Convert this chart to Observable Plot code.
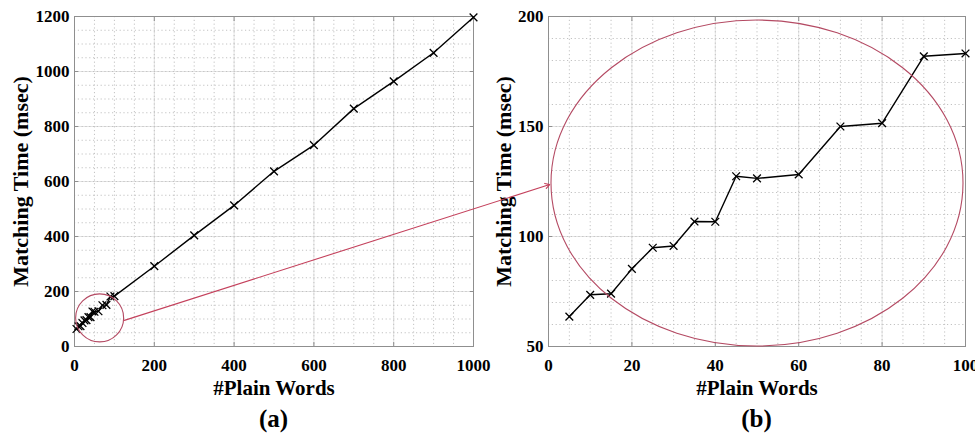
<!DOCTYPE html>
<html>
<head>
<meta charset="utf-8">
<script src="https://cdn.jsdelivr.net/npm/d3@7"></script>
<script src="https://cdn.jsdelivr.net/npm/@observablehq/plot@0.6"></script>
<style>
  html, body { margin: 0; padding: 0; background: white; overflow: hidden; width: 975px; height: 437px; }
  #wrap { display: flex; width: 975px; height: 437px; position: relative; }
  .panel { position: relative; }
  .cap { font-family: 'Liberation Serif', 'Times New Roman', serif; font-weight: bold; font-size: 25px;
         height: 37px; line-height: 37px; text-align: center; color: black; }
  svg { overflow: visible; }
</style>
</head>
<body>
<div id="wrap">
  <div class="panel" id="pa" style="width:490px"></div>
  <div class="panel" id="pb" style="width:485px"></div>
</div>
<script>
// ---- data ----
const words  = [5, 10, 15, 20, 25, 30, 35, 40, 45, 50, 60, 70, 80, 90, 100, 200, 300, 400, 500, 600, 700, 800, 900, 1000];
const timeMs = [63.6, 73.5, 74.0, 85.3, 94.9, 95.7, 106.8, 106.7, 127.4, 126.4, 128.2, 150.0, 151.5, 181.9, 183.2, 292, 404, 513, 637, 732, 865, 964, 1068, 1197];

const xTicksA = [0, 200, 400, 600, 800, 1000];
const yTicksA = [0, 200, 400, 600, 800, 1000, 1200];
const xTicksB = [0, 20, 40, 60, 80, 100];
const yTicksB = [50, 100, 150, 200];

const xLabel = "#Plain Words";
const yLabel = "Matching Time (msec)";
const captions = ["(a)", "(b)"];

// zoom annotation (data units of panel a / panel b)
const zoomCircleA = [{x: 63, y: 104}];
const zoomArrowA  = [{x1: 125, y1: 95, x2: 1191, y2: 589}];
const zoomEllipseB = [{x: 50, y: 124.3}];

const table = words.map((w, i) => ({words: w, time: timeMs[i]}));
const tableB = table.filter(d => d.words <= 100);

const serif = "'Liberation Serif', 'Times New Roman', serif";
const frameColor = "#8f8f8f";
const annColor = "#b44a63";
const fmt = d3.format("d");

function ellipseSymbol(rx, ry) {
  const k = 0.5523;
  return {
    draw(ctx) {
      ctx.moveTo(rx, 0);
      ctx.bezierCurveTo(rx, k * ry, k * rx, ry, 0, ry);
      ctx.bezierCurveTo(-k * rx, ry, -rx, k * ry, -rx, 0);
      ctx.bezierCurveTo(-rx, -k * ry, -k * rx, -ry, 0, -ry);
      ctx.bezierCurveTo(k * rx, -ry, rx, -k * ry, rx, 0);
      ctx.closePath();
    }
  };
}

function minorTicks(domain, step) {
  return d3.range(domain[0], domain[1] + step / 2, step);
}

function panel({data, xDomain, yDomain, xTicks, yTicks, xStep, yStep, width, marginLeft, marginRight, yLabelDx, extra}) {
  return Plot.plot({
    width, height: 400,
    marginLeft, marginRight, marginTop: 16, marginBottom: 54,
    style: {fontFamily: serif, fontWeight: "bold", fontSize: "17px", background: "transparent", overflow: "visible", color: "black"},
    x: {domain: xDomain},
    y: {domain: yDomain},
    marks: [
      Plot.gridX(xTicks, {stroke: "#e4e4e4", strokeOpacity: 1, strokeWidth: 1}),
      Plot.gridY(yTicks, {stroke: "#e4e4e4", strokeOpacity: 1, strokeWidth: 1}),
      Plot.gridX(minorTicks(xDomain, xStep), {stroke: "#c2c2c2", strokeOpacity: 1, strokeDasharray: "1.2,2.6"}),
      Plot.gridY(minorTicks(yDomain, yStep), {stroke: "#c2c2c2", strokeOpacity: 1, strokeDasharray: "1.2,2.6"}),
      Plot.frame({stroke: frameColor}),
      // inward ticks on all four sides
      Plot.axisX(xTicks, {anchor: "bottom", tickSize: 4, dy: -4, tickFormat: () => "", stroke: frameColor, label: null}),
      Plot.axisX(xTicks, {anchor: "top", tickSize: 4, dy: 4, tickFormat: () => "", stroke: frameColor, label: null}),
      Plot.axisY(yTicks, {anchor: "left", tickSize: 4, dx: 4, tickFormat: () => "", stroke: frameColor, label: null}),
      Plot.axisY(yTicks, {anchor: "right", tickSize: 4, dx: -4, tickFormat: () => "", stroke: frameColor, label: null}),
      // tick labels
      Plot.axisX(xTicks, {anchor: "bottom", tickSize: 0, tickPadding: 12, tickFormat: fmt, label: null, fontSize: 17, fontWeight: "bold"}),
      Plot.axisY(yTicks, {anchor: "left", tickSize: 0, tickPadding: 5, tickFormat: fmt, label: null, fontSize: 17, fontWeight: "bold"}),
      // axis titles
      Plot.text([xLabel], {frameAnchor: "bottom", dy: 42, lineAnchor: "middle", textAnchor: "middle", fontSize: 21, fontWeight: "bold"}),
      Plot.text([yLabel], {frameAnchor: "left", rotate: -90, dx: yLabelDx, lineAnchor: "middle", textAnchor: "middle", fontSize: 22, fontWeight: "bold"}),
      // data
      Plot.line(data, {x: "words", y: "time", stroke: "black", strokeWidth: 1.4}),
      Plot.dot(data, {x: "words", y: "time", symbol: "times", r: 3.6, stroke: "black", strokeWidth: 1.3}),
      ...extra
    ]
  });
}

const a = panel({
  data: table, xDomain: [0, 1000], yDomain: [0, 1200], xTicks: xTicksA, yTicks: yTicksA,
  xStep: 50, yStep: 50, width: 490, marginLeft: 74, marginRight: 17, yLabelDx: -54,
  extra: [
    Plot.dot(zoomCircleA, {x: "x", y: "y", r: 24, stroke: annColor, fill: "none", strokeWidth: 1.1}),
    Plot.arrow(zoomArrowA, {x1: "x1", y1: "y1", x2: "x2", y2: "y2", stroke: "#c4415c", strokeWidth: 1.1, headLength: 7, bend: 0})
  ]
});
const b = panel({
  data: tableB, xDomain: [0, 100], yDomain: [50, 200], xTicks: xTicksB, yTicks: yTicksB,
  xStep: 5, yStep: 10, width: 485, marginLeft: 58, marginRight: 10, yLabelDx: -45,
  extra: [
    Plot.dot(zoomEllipseB, {x: "x", y: "y", symbol: ellipseSymbol(206, 163), r: 1, stroke: annColor, fill: "none", strokeWidth: 1.1})
  ]
});

function mount(id, svg, caption, ml, mr, width) {
  const el = document.getElementById(id);
  el.appendChild(svg);
  const c = document.createElement("div");
  c.className = "cap";
  c.style.paddingLeft = ml + "px";
  c.style.width = (width - ml - mr) + "px";
  c.textContent = caption;
  el.appendChild(c);
}
mount("pa", a, captions[0], 74, 17, 490);
mount("pb", b, captions[1], 58, 10, 485);
document.getElementById("pa").style.zIndex = 2;
</script>
</body>
</html>
